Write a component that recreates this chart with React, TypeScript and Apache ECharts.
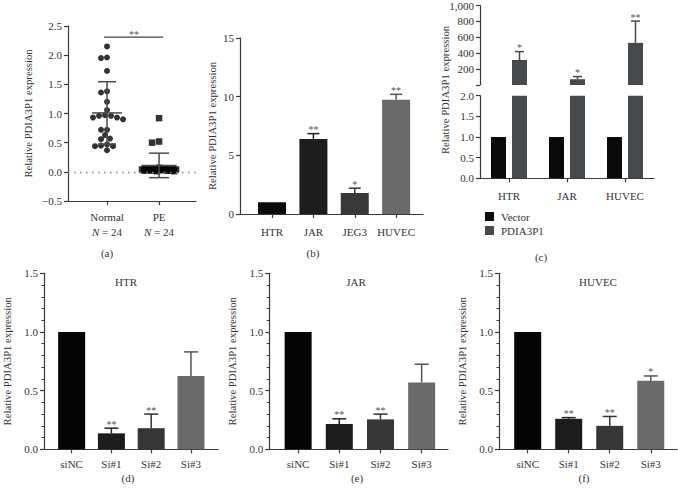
import React, { useEffect, useRef } from 'react';
import * as echarts from 'echarts';

// ---------- data ----------
// (a) scatter
const groupNames = ['Normal', 'PE'];
const normalValues = [2.15, 1.96, 1.95, 1.73, 1.38, 1.36, 1.2, 1.06, 0.96, 0.93, 0.93, 0.9, 0.96, 0.97, 0.72, 0.72, 0.63, 0.57, 0.56, 0.47, 0.45, 0.44, 0.44, 0.37];
const peValues = [0.92, 0.52, 0.5, 0.02, 0.05, 0.03, 0.06, 0.01, 0.04, 0.07, 0.02, 0.05, 0.03, 0.06, 0.04, 0.02, 0.05, 0.03, 0.01, 0.06, 0.04, 0.03, 0.05, 0.02];
const groupMeans = [1.01, 0.11];
const groupSD = [0.535, 0.21];
const sigBarY = 2.31;
const yTicksA = [-0.5, 2.5, 0.5];

// (b)
const cellLines = ['HTR', 'JAR', 'JEG3', 'HUVEC'];
const cellValues = [1.0, 6.4, 1.79, 9.74];
const cellErrTop = [1.0, 6.85, 2.2, 10.2];
const cellSig = ['', '**', '*', '**'];

// (c)
const overGroups = ['HTR', 'JAR', 'HUVEC'];
const vectorValues = [1, 1, 1];
const pdiaValues = [315, 73, 530];
const pdiaErrTop = [420, 106, 804];
const pdiaSig = ['*', '*', '**'];
const breakLow = 2;

// (d)-(f)
const siGroups = ['siNC', 'Si#1', 'Si#2', 'Si#3'];
const htrValues = [1.0, 0.136, 0.18, 0.625];
const htrErrTop = [1.0, 0.18, 0.3, 0.83];
const htrSig = ['', '**', '**', ''];
const jarValues = [1.0, 0.216, 0.255, 0.57];
const jarErrTop = [1.0, 0.26, 0.3, 0.725];
const jarSig = ['', '**', '**', ''];
const huvecValues = [1.0, 0.26, 0.2, 0.585];
const huvecErrTop = [1.0, 0.27, 0.28, 0.625];
const huvecSig = ['', '**', '**', '*'];

// ---------- style ----------
const FONT = 'Liberation Serif';
const TXT = '#333';
const AX = '#3a3a3a';
const cellColors = ['#0b0b0b', '#1d1d1d', '#383838', '#6a6a6a'];
const siColors = ['#050505', '#1c1c1c', '#363636', '#6a6a6a'];
const vectorColor = '#0a0a0a';
const pdiaColor = '#474a4d';

function beeswarm(values: number[], center: number, pxPerX: number, pxPerY: number, diameter: number, maxHalf: number) {
  const order = values.map((_, i) => i).sort((a, b) => values[b] - values[a]);
  const placed: number[][] = [];
  const xs: number[] = new Array(values.length);
  for (const i of order) {
    const y = values[i] * pxPerY;
    let best = 0;
    let bestScore = -Infinity;
    for (let k = 0; k <= 2 * maxHalf; k++) {
      const off = k === 0 ? 0 : (k % 2 === 1 ? -1 : 1) * Math.ceil(k / 2);
      let minD = Infinity;
      for (const p of placed) {
        const d = Math.hypot(p[0] - off, p[1] - y);
        if (d < minD) minD = d;
      }
      if (minD >= diameter) { best = off; bestScore = Infinity; break; }
      if (minD > bestScore) { bestScore = minD; best = off; }
    }
    placed.push([best, y]);
    xs[i] = center + best / pxPerX;
  }
  return xs;
}

const axisLineStyle = { color: AX, width: 1.2 };
const labelBase = { color: TXT, fontFamily: FONT, fontSize: 11 };

function yAxisCfg(grid: number, min: number, max: number, interval: number, fmt: (v: number) => string, name?: string, nameGap?: number, minor?: boolean) {
  return {
    gridIndex: grid, type: 'value', min, max, interval,
    name: name || '', nameLocation: 'middle', nameGap: nameGap || 30,
    nameTextStyle: { color: TXT, fontFamily: FONT, fontSize: 10.7 },
    splitLine: { show: false },
    axisLine: { show: true, onZero: false, lineStyle: axisLineStyle },
    axisTick: { show: true, length: 4, lineStyle: axisLineStyle },
    minorTick: { show: !!minor, splitNumber: 5, length: 2.5, lineStyle: { color: AX, width: 1 } },
    axisLabel: { ...labelBase, formatter: fmt, margin: 6 },
  };
}

function valueCatXAxis(grid: number, min: number, max: number, cats: string[], margin: number) {
  const vals = cats.map((_, i) => i);
  return {
    gridIndex: grid, type: 'value', min, max,
    splitLine: { show: false },
    axisLine: { show: true, onZero: false, lineStyle: axisLineStyle },
    axisTick: { show: true, customValues: vals, length: 4, lineStyle: axisLineStyle },
    axisLabel: { ...labelBase, customValues: vals, formatter: (v: number) => cats[Math.round(v)], margin },
  };
}

function errorSeries(xIdx: number, yIdx: number, xs: number[], vals: number[], tops: number[], sigs: string[], colors: string[], capW: number, offsetPx: number) {
  return {
    type: 'custom', xAxisIndex: xIdx, yAxisIndex: yIdx, z: 5,
    data: xs.map((x, i) => [x, vals[i], tops[i]]),
    renderItem: (params: any, api: any) => {
      const i = params.dataIndex;
      const base = api.coord([api.value(0), api.value(1)]);
      const top = api.coord([api.value(0), api.value(2)]);
      const cx = base[0] + offsetPx;
      const color = colors[i % colors.length];
      const children: any[] = [];
      if (api.value(2) > api.value(1)) {
        children.push({ type: 'line', shape: { x1: cx, y1: base[1], x2: cx, y2: top[1] }, style: { stroke: color, lineWidth: 1.5 } });
        children.push({ type: 'line', shape: { x1: cx - capW / 2, y1: top[1], x2: cx + capW / 2, y2: top[1] }, style: { stroke: color, lineWidth: 1.5 } });
      }
      if (sigs[i]) {
        children.push({ type: 'text', style: { text: sigs[i], x: cx, y: top[1] - 4, align: 'center', verticalAlign: 'middle', fontFamily: FONT, fontSize: 10, fill: '#555' } });
      }
      return { type: 'group', children };
    },
  };
}

function barSeriesValue(xIdx: number, yIdx: number, vals: number[], colors: string[], width: number) {
  return {
    type: 'bar', xAxisIndex: xIdx, yAxisIndex: yIdx, barWidth: width,
    data: vals.map((v, i) => ({ value: [i, v], itemStyle: { color: colors[i] } })),
  };
}

export default function App() {
  const ref = useRef<HTMLDivElement>(null);
  useEffect(() => {
    if (!ref.current) return;
    const chart = echarts.init(ref.current, undefined, { renderer: 'svg' });

    const aMin = 0.25, aMax = 2.71;
    const aPxX = 128 / (aMax - aMin);
    const aPxY = 175 / (yTicksA[1] - yTicksA[0]);
    const normalX = beeswarm(normalValues, 1, aPxX, aPxY, 5.6, 16);
    const peX = beeswarm(peValues, 2, aPxX, aPxY, 6.2, 17);

    const f1 = (v: number) => (v < 0 ? '\u2212' + Math.abs(v).toFixed(1) : v.toFixed(1));
    const idx4 = [0, 1, 2, 3];

    const option: any = {
      animation: false,
      textStyle: { fontFamily: FONT },
      grid: [
        { left: 68, top: 26, width: 128, height: 175 },
        { left: 240, top: 38, width: 183, height: 176 },
        { left: 480, top: 3.3, width: 174, height: 81.7 },
        { left: 480, top: 95.7, width: 174, height: 82.6 },
        { left: 39, top: 273.3, width: 179, height: 176 },
        { left: 269.3, top: 273.3, width: 178.7, height: 176 },
        { left: 499, top: 273.3, width: 178, height: 176 },
      ],
      xAxis: [
        {
          gridIndex: 0, type: 'value', min: aMin, max: aMax,
          splitLine: { show: false },
          axisLine: { show: true, onZero: false, lineStyle: axisLineStyle },
          axisTick: { show: true, customValues: [1, 2], length: 4, lineStyle: axisLineStyle },
          axisLabel: {
            ...labelBase, customValues: [1, 2], margin: 8,
            formatter: (v: number) => '{g|' + groupNames[Math.round(v) - 1] + '}\n{i|N}{g| = 24}',
            rich: {
              g: { ...labelBase, lineHeight: 15 },
              i: { ...labelBase, fontStyle: 'italic', lineHeight: 15 },
            },
          },
        },
        valueCatXAxis(1, -0.775, 3.65, cellLines, 12),
        {
          gridIndex: 2, type: 'category', data: overGroups,
          axisLine: { show: false }, axisTick: { show: false }, axisLabel: { show: false },
        },
        {
          gridIndex: 3, type: 'category', data: overGroups,
          axisLine: { show: true, lineStyle: axisLineStyle },
          axisTick: { show: true, alignWithLabel: true, interval: 0, length: 4, lineStyle: axisLineStyle },
          axisLabel: { ...labelBase, margin: 12 },
        },
        valueCatXAxis(4, -0.695, 3.68, siGroups, 9),
        valueCatXAxis(5, -0.7, 3.64, siGroups, 9),
        valueCatXAxis(6, -0.7, 3.64, siGroups, 9),
      ],
      yAxis: [
        yAxisCfg(0, yTicksA[0], yTicksA[1], yTicksA[2], f1, 'Relative PDIA3P1 expression', 35),
        yAxisCfg(1, 0, 15, 5, (v) => String(v), 'Relative PDIA3P1 expression', 23),
        yAxisCfg(2, 0, 1000, 200, (v) => (v === 0 ? '' : v.toLocaleString('en-US'))),
        yAxisCfg(3, 0, breakLow, 0.5, (v) => v.toFixed(1)),
        yAxisCfg(4, 0, 1.5, 0.5, (v) => v.toFixed(1), 'Relative PDIA3P1 expression', 32, true),
        yAxisCfg(5, 0, 1.5, 0.5, (v) => v.toFixed(1), 'Relative PDIA3P1 expression', 32, true),
        yAxisCfg(6, 0, 1.5, 0.5, (v) => v.toFixed(1), 'Relative PDIA3P1 expression', 32, true),
      ],
      legend: {
        data: [{ name: 'Vector', icon: 'rect' }, { name: 'PDIA3P1', icon: 'rect' }],
        orient: 'vertical', left: 485, top: 210, itemWidth: 9, itemHeight: 9, itemGap: 1,
        padding: 0,
        selectedMode: false,
        textStyle: { color: TXT, fontFamily: FONT, fontSize: 11, padding: [0, 0, 0, 2], lineHeight: 13 },
      },
      graphic: [
        ...[['(a)', 107, 253], ['(b)', 313, 253], ['(c)', 541, 257], ['(d)', 128, 478], ['(e)', 357, 478], ['(f)', 584, 478]].map((t: any) => ({
          type: 'text', x: t[1], y: t[2], style: { text: t[0], align: 'center', verticalAlign: 'middle', fontFamily: FONT, fontSize: 11, fill: TXT },
        })),
        ...[['HTR', 126, 282], ['JAR', 356, 282], ['HUVEC', 598, 282]].map((t: any) => ({
          type: 'text', x: t[1], y: t[2], style: { text: t[0], align: 'center', verticalAlign: 'middle', fontFamily: FONT, fontSize: 11, fill: TXT },
        })),
        {
          type: 'text', x: 445, y: 90, rotation: Math.PI / 2,
          style: { text: 'Relative PDIA3P1 expression', align: 'center', verticalAlign: 'middle', fontFamily: FONT, fontSize: 10.7, fill: TXT },
        },
      ],
      series: [
        // (a)
        {
          type: 'scatter', name: 'normal', xAxisIndex: 0, yAxisIndex: 0, symbol: 'circle', symbolSize: 6,
          itemStyle: { color: '#000' }, data: normalValues.map((v, i) => [normalX[i], v]),
          markLine: {
            silent: true, symbol: 'none', label: { show: false },
            lineStyle: { color: '#888', type: [1.5, 4.5], width: 1.3 },
            data: [{ yAxis: 0 }],
          },
        },
        {
          type: 'scatter', name: 'pe', xAxisIndex: 0, yAxisIndex: 0, symbol: 'rect', symbolSize: 6.5,
          itemStyle: { color: '#000' }, data: peValues.map((v, i) => [peX[i], v]),
        },
        {
          type: 'custom', xAxisIndex: 0, yAxisIndex: 0, z: 6,
          data: groupMeans.map((m, i) => [i + 1, m, groupSD[i]]),
          renderItem: (params: any, api: any) => {
            const i = params.dataIndex;
            const x = api.value(0), m = api.value(1), s = api.value(2);
            const c = api.coord([x, m]);
            const up = api.coord([x, m + s]);
            const lo = api.coord([x, m - s]);
            const halfMean = [15, 17.5][i];
            const halfCap = [9, 10][i];
            const st = { stroke: '#4a4a4a', lineWidth: 1.5 };
            return {
              type: 'group', children: [
                { type: 'line', shape: { x1: c[0] - halfMean, y1: c[1], x2: c[0] + halfMean, y2: c[1] }, style: st },
                { type: 'line', shape: { x1: c[0], y1: up[1], x2: c[0], y2: lo[1] }, style: st },
                { type: 'line', shape: { x1: c[0] - halfCap, y1: up[1], x2: c[0] + halfCap, y2: up[1] }, style: st },
                { type: 'line', shape: { x1: c[0] - halfCap, y1: lo[1], x2: c[0] + halfCap, y2: lo[1] }, style: st },
              ],
            };
          },
        },
        {
          type: 'custom', xAxisIndex: 0, yAxisIndex: 0, z: 6,
          data: [[1, 2, sigBarY]],
          renderItem: (params: any, api: any) => {
            const p1 = api.coord([api.value(0), api.value(2)]);
            const p2 = api.coord([api.value(1), api.value(2)]);
            return {
              type: 'group', children: [
                { type: 'line', shape: { x1: p1[0] - 3, y1: p1[1], x2: p2[0] + 4, y2: p2[1] }, style: { stroke: '#444', lineWidth: 1.2 } },
                { type: 'text', style: { text: '**', x: (p1[0] + p2[0]) / 2 + 1, y: p1[1] - 3, align: 'center', verticalAlign: 'middle', fontFamily: FONT, fontSize: 10, fill: '#555' } },
              ],
            };
          },
        },
        // (b)
        barSeriesValue(1, 1, cellValues, cellColors, 28),
        errorSeries(1, 1, idx4, cellValues, cellErrTop, cellSig, ['#222', '#222', '#333', '#555'], 12, 0),
        // (c) bottom
        { type: 'bar', name: 'Vector', xAxisIndex: 3, yAxisIndex: 3, barWidth: 15, barGap: '40%', clip: true, itemStyle: { color: vectorColor }, data: vectorValues },
        { type: 'bar', name: 'PDIA3P1', xAxisIndex: 3, yAxisIndex: 3, barWidth: 15, barGap: '40%', clip: true, itemStyle: { color: pdiaColor }, data: pdiaValues },
        // (c) top
        { type: 'bar', name: 'Vector', xAxisIndex: 2, yAxisIndex: 2, barWidth: 15, barGap: '40%', clip: true, itemStyle: { color: vectorColor }, data: vectorValues.map((v) => (v > breakLow ? v : '-')) },
        { type: 'bar', name: 'PDIA3P1', xAxisIndex: 2, yAxisIndex: 2, barWidth: 15, barGap: '40%', clip: true, itemStyle: { color: pdiaColor }, data: pdiaValues.map((v) => (v > breakLow ? v : '-')) },
        errorSeries(2, 2, [0, 1, 2], pdiaValues, pdiaErrTop, pdiaSig, [pdiaColor], 9, 10.5),
        // (d)
        barSeriesValue(4, 4, htrValues, siColors, 27),
        errorSeries(4, 4, idx4, htrValues, htrErrTop, htrSig, ['#222', '#222', '#333', '#555'], 14, 0),
        // (e)
        barSeriesValue(5, 5, jarValues, siColors, 27),
        errorSeries(5, 5, idx4, jarValues, jarErrTop, jarSig, ['#222', '#222', '#333', '#555'], 14, 0),
        // (f)
        barSeriesValue(6, 6, huvecValues, siColors, 27),
        errorSeries(6, 6, idx4, huvecValues, huvecErrTop, huvecSig, ['#222', '#222', '#333', '#555'], 14, 0),
      ],
    };
    chart.setOption(option);
    return () => chart.dispose();
  }, []);
  return <div ref={ref} style={{ position: 'fixed', left: 0, top: 0, width: 678, height: 490, background: '#fff' }} />;
}
